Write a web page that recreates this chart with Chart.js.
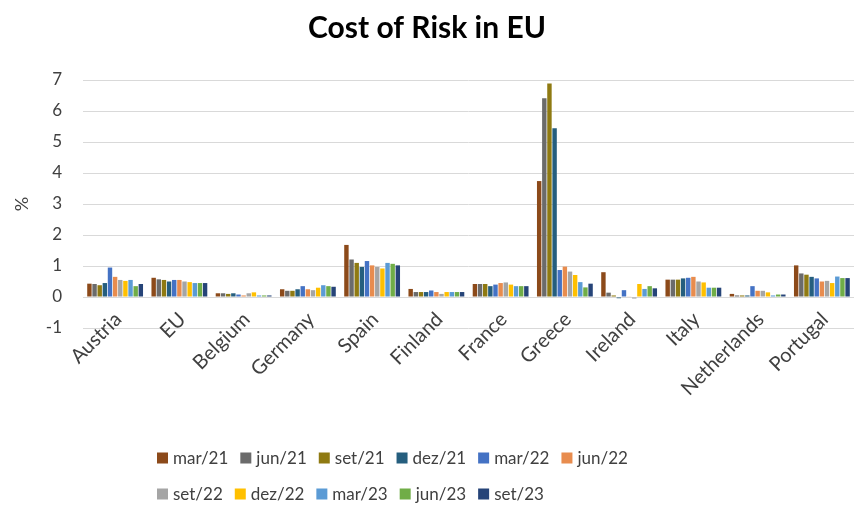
<!DOCTYPE html>
<html>
<head>
<meta charset="utf-8">
<title>Cost of Risk in EU</title>
<script src="https://cdn.jsdelivr.net/npm/chart.js@4.4.1/dist/chart.umd.min.js"></script>
<style>
  html, body { margin: 0; padding: 0; background: #fff; }
  #wrap { width: 854px; height: 512px; position: relative; }
</style>
</head>
<body>
<div id="wrap"><canvas id="riskChart"></canvas></div>
<script>
// countries on the x axis
var countries = ['Austria', 'EU', 'Belgium', 'Germany', 'Spain', 'Finland', 'France', 'Greece', 'Ireland', 'Italy', 'Netherlands', 'Portugal'];

// cost of risk (%) per quarter, one value per country
var mar21 = [0.43, 0.62, 0.12, 0.25, 1.68, 0.26, 0.42, 3.74, 0.80, 0.56, 0.10, 1.02];
var jun21 = [0.42, 0.57, 0.12, 0.20, 1.21, 0.16, 0.42, 6.41, 0.14, 0.56, 0.05, 0.76];
var set21 = [0.38, 0.55, 0.10, 0.20, 1.10, 0.16, 0.42, 6.89, 0.05, 0.56, 0.05, 0.72];
var dez21 = [0.45, 0.50, 0.12, 0.25, 0.97, 0.16, 0.35, 5.44, -0.04, 0.60, 0.05, 0.65];
var mar22 = [0.95, 0.55, 0.08, 0.35, 1.16, 0.21, 0.40, 0.87, 0.22, 0.62, 0.35, 0.60];
var jun22 = [0.65, 0.55, 0.05, 0.25, 1.02, 0.16, 0.45, 0.98, 0.02, 0.65, 0.20, 0.50];
var set22 = [0.55, 0.50, 0.12, 0.22, 0.97, 0.10, 0.47, 0.82, -0.05, 0.50, 0.20, 0.52];
var dez22 = [0.52, 0.48, 0.15, 0.30, 0.92, 0.16, 0.40, 0.71, 0.42, 0.47, 0.15, 0.45];
var mar23 = [0.55, 0.45, 0.05, 0.38, 1.10, 0.16, 0.35, 0.48, 0.26, 0.30, 0.05, 0.66];
var jun23 = [0.35, 0.45, 0.05, 0.35, 1.07, 0.16, 0.35, 0.31, 0.35, 0.30, 0.08, 0.61];
var set23 = [0.42, 0.45, 0.05, 0.33, 1.02, 0.16, 0.35, 0.43, 0.28, 0.30, 0.08, 0.61];

var periods = ['mar/21', 'jun/21', 'set/21', 'dez/21', 'mar/22', 'jun/22', 'set/22', 'dez/22', 'mar/23', 'jun/23', 'set/23'];
var series = [mar21, jun21, set21, dez21, mar22, jun22, set22, dez22, mar23, jun23, set23];
var colors = ['#8c4a1a', '#6b6b6b', '#8f7a12', '#255e7e', '#4472c4', '#e88c4e', '#a5a5a5', '#ffc000', '#5b9bd5', '#70ad47', '#264478'];

var FONT = "Lato, 'Open Sans', sans-serif";

var datasets = periods.map(function (p, i) {
    return {
        label: p,
        data: series[i],
        backgroundColor: colors[i],
        borderWidth: 0,
        categoryPercentage: 0.88,
        barPercentage: 0.86
    };
});

// country names sit just under the zero line, rotated 45 degrees
var countryLabels = {
    id: 'countryLabels',
    afterDraw: function (chart) {
        var ctx = chart.ctx;
        var xs = chart.scales.x;
        ctx.save();
        ctx.font = '20px ' + FONT;
        ctx.fillStyle = '#404040';
        ctx.textAlign = 'right';
        ctx.textBaseline = 'middle';
        chart.data.labels.forEach(function (lbl, i) {
            ctx.save();
            ctx.translate(xs.getPixelForValue(i) + 3, 316);
            ctx.rotate(-Math.PI / 4);
            ctx.fillText(lbl, 0, 0);
            ctx.restore();
        });
        ctx.restore();
    }
};

// legend in two rows (6 + 5), left aligned, drawn under the axis labels
var rowLegend = {
    id: 'rowLegend',
    afterDraw: function (chart) {
        var ctx = chart.ctx;
        var rows = [[0, 6], [6, 11]];
        var rowY = [458, 494];
        var box = 11, gap = 5, itemGap = 12;
        var left = 157;
        ctx.save();
        ctx.font = '17px ' + FONT;
        ctx.textBaseline = 'middle';
        rows.forEach(function (r, ri) {
            var x = left;
            for (var i = r[0]; i < r[1]; i++) {
                ctx.fillStyle = chart.data.datasets[i].backgroundColor;
                ctx.fillRect(x, rowY[ri] - box / 2, box, box);
                x += box + gap;
                ctx.fillStyle = '#404040';
                ctx.fillText(chart.data.datasets[i].label, x, rowY[ri] + 1);
                x += ctx.measureText(chart.data.datasets[i].label).width + itemGap;
            }
        });
        ctx.restore();
    }
};

var ctx = document.getElementById('riskChart').getContext('2d');
var riskChart = new Chart(ctx, {
    type: 'bar',
    data: {
        labels: countries,
        datasets: datasets
    },
    options: {
        responsive: true,
        maintainAspectRatio: false,
        animation: false,
        layout: {
            padding: { left: 0, right: 0, top: 0, bottom: 85 }
        },
        plugins: {
            legend: { display: false },
            tooltip: { enabled: false },
            title: {
                display: true,
                text: 'Cost of Risk in EU',
                color: '#000',
                font: { family: FONT, size: 30, weight: 'bold' },
                padding: { top: 10, bottom: 34 }
            }
        },
        scales: {
            x: {
                grid: { display: false },
                border: { display: false },
                ticks: { display: false },
                afterFit: function (scale) { scale.height = 99; }
            },
            y: {
                min: -1,
                max: 7,
                grid: { color: '#d9d9d9', drawTicks: false },
                border: { display: false },
                ticks: {
                    stepSize: 1,
                    color: '#404040',
                    font: { family: FONT, size: 17 },
                    padding: 21
                },
                title: {
                    display: true,
                    text: '%',
                    color: '#404040',
                    font: { family: FONT, size: 18 },
                    padding: { top: 11, bottom: 0 }
                },
                afterFit: function (scale) { scale.width = 83; }
            }
        }
    },
    plugins: [countryLabels, rowLegend]
});
</script>
</body>
</html>
